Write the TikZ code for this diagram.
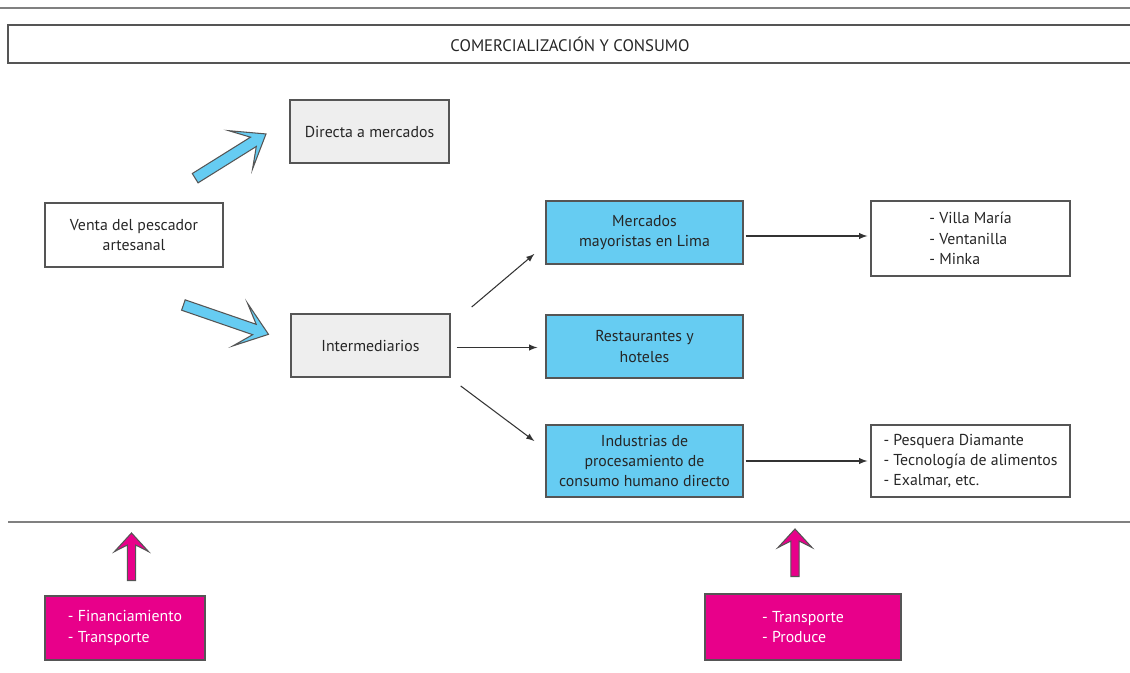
\documentclass[tikz,border=0pt]{standalone}
\usepackage{fontspec}
\setmainfont{PT Sans}
\usetikzlibrary{shapes.arrows}
\definecolor{celeste}{HTML}{66CCF2}
\definecolor{rosa}{HTML}{E8008A}
\definecolor{gris}{HTML}{EEEEEE}
\definecolor{borde}{HTML}{555555}
\tikzset{
  caja/.style = {draw=borde, line width=0.8pt, align=center, text=black!85,
    font=\fontsize{9}{11.5}\selectfont, inner sep=0pt},
  gris/.style    = {caja, fill=gris},
  celeste/.style = {caja, fill=celeste},
  rosa/.style    = {caja, fill=rosa, text=white, align=left},
  flecha/.style  = {draw=borde, line width=0.6pt, single arrow, inner xsep=0pt},
  linea/.style   = {->, black!80, line width=0.6pt}
}
\tikzset{>=latex}

\begin{document}
\begin{tikzpicture}
  \useasboundingbox (0,0) rectangle (22.6,13.44);
  % bandas de arriba y abajo
  \draw[gray, line width=1.3pt] (0,13.28) -- (22.6,13.28);
  \draw[borde, line width=0.8pt] (0.16,12.18) rectangle (22.8,12.94);
  \node[text=black!85, font=\fontsize{9.5}{10}\selectfont] (titulo) at (11.4,12.56) {COMERCIALIZACIÓN Y CONSUMO};
  \draw[gray, line width=0.9pt] (0.16,3.0) -- (22.6,3.0);

  % cajas
  \node[caja, minimum width=3.56cm, minimum height=1.28cm] (venta) at (2.68,8.74) {Venta del pescador\\artesanal};
  \node[gris, minimum width=3.18cm, minimum height=1.26cm] (directa) at (7.39,10.81) {Directa a mercados};
  \node[gris, minimum width=3.18cm, minimum height=1.26cm] (inter) at (7.41,6.53) {Intermediarios};
  \node[celeste, minimum width=3.94cm, minimum height=1.26cm] (merc) at (12.89,8.79) {Mercados\\mayoristas en Lima};
  \node[celeste, minimum width=3.94cm, minimum height=1.26cm] (rest) at (12.89,6.51) {Restaurantes y\\hoteles};
  \node[celeste, minimum width=3.94cm, minimum height=1.44cm] (ind) at (12.89,4.22) {Industrias de\\procesamiento de\\consumo humano directo};
  \node[caja, align=left, minimum width=3.98cm, minimum height=1.50cm] (villa) at (19.41,8.67) {- Villa María\\- Ventanilla\\- Minka};
  \node[caja, align=left, minimum width=3.98cm, minimum height=1.44cm] (pesq) at (19.41,4.22) {- Pesquera Diamante\\- Tecnología de alimentos\\- Exalmar, etc.};
  \node[rosa, minimum width=3.2cm, minimum height=1.28cm] (apoyo) at (2.5,0.88) {- Financiamiento\\- Transporte};
  \node[rosa, minimum width=3.92cm, minimum height=1.32cm] (produce) at (16.06,0.9) {- Transporte\\- Produce};

  % flechas gruesas
  \node[flecha, fill=celeste, minimum height=1.67cm, minimum width=0.9cm, inner ysep=0.07cm,
    single arrow tip angle=74, single arrow head indent=0.3cm, rotate=32] (f1) at (4.55,10.28) {};
  \node[flecha, fill=celeste, minimum height=1.8cm, minimum width=0.9cm, inner ysep=0.07cm,
    single arrow tip angle=74, single arrow head indent=0.3cm, rotate=-19] (f2) at (4.45,7.07) {};
  \node[flecha, fill=rosa, minimum height=0.95cm, minimum width=0.68cm, inner ysep=0.07cm,
    single arrow tip angle=85, single arrow head indent=0.13cm, rotate=90] (f3) at (2.63,2.26) {};
  \node[flecha, fill=rosa, minimum height=0.95cm, minimum width=0.68cm, inner ysep=0.07cm,
    single arrow tip angle=85, single arrow head indent=0.13cm, rotate=90] (f4) at (15.9,2.34) {};

  % flechas finas
  \draw[linea] ([xshift=0.42cm,yshift=0.77cm]inter.east) -- ([xshift=-0.22cm,yshift=-0.43cm]merc.west);
  \draw[linea, shorten <=0.12cm, shorten >=0.16cm] ([yshift=-0.04cm]inter.east) -- ([yshift=-0.04cm]inter.east -| rest.west);
  \draw[linea] ([xshift=0.2cm,yshift=-0.81cm]inter.east) -- ([xshift=-0.22cm,yshift=0.4cm]ind.west);
  \draw[linea, shorten <=0.04cm, shorten >=0.06cm] ([yshift=-0.07cm]merc.east) -- ([yshift=-0.07cm]merc.east -| villa.west);
  \draw[linea, shorten <=0.04cm, shorten >=0.06cm] (ind.east) -- (pesq.west);
\end{tikzpicture}
\end{document}
